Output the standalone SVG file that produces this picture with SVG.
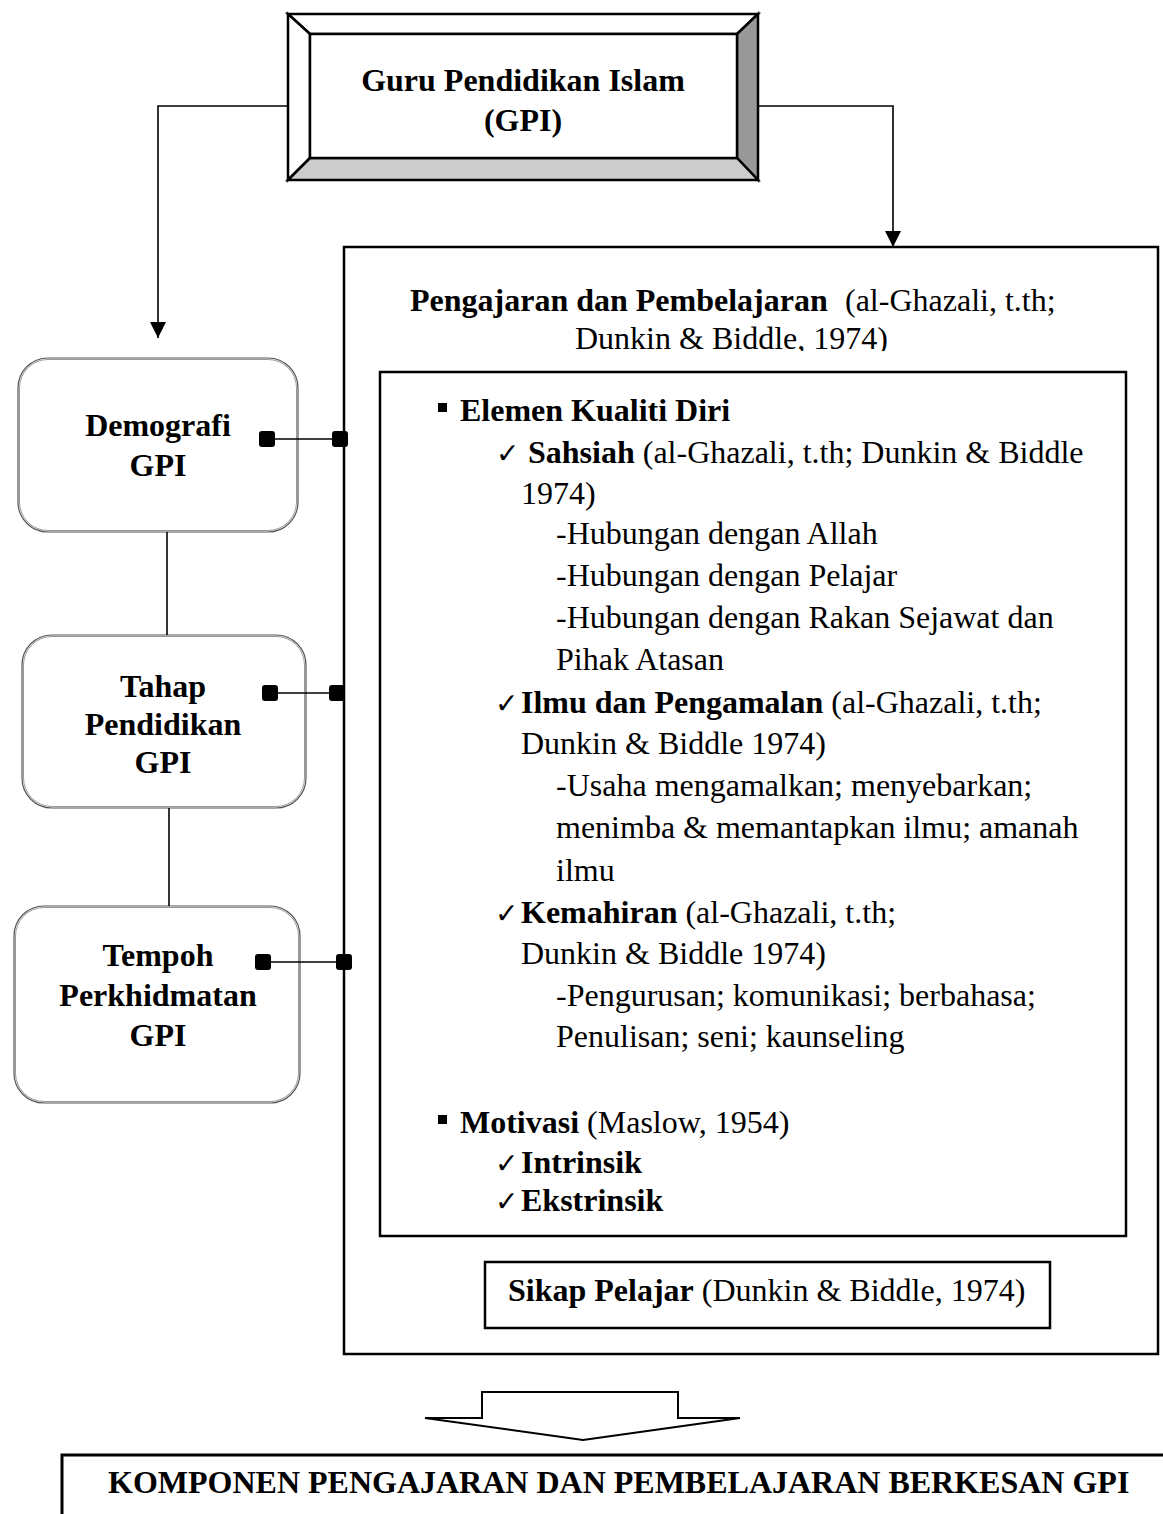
<svg xmlns="http://www.w3.org/2000/svg" width="1163" height="1514" viewBox="0 0 1163 1514">
<style>
text{font-family:"Liberation Serif","Times New Roman",serif;font-size:32px;fill:#000}
.b{font-weight:bold}
.c{text-anchor:middle}
.ck{font-family:"DejaVu Sans",sans-serif;font-size:28px}
.ln{stroke:#000;stroke-width:1.6;fill:none}
.box{fill:#fff;stroke:#000;stroke-width:2.5}
.rb{fill:#fff;stroke:#555;stroke-width:1.2}
.rbi{fill:none;stroke:#999;stroke-width:1}
.bev{stroke:#000;stroke-width:2.5;stroke-linejoin:miter}
.sq{fill:#000}
</style>
<defs>
<marker id="ah" markerUnits="userSpaceOnUse" viewBox="0 0 16 16" markerWidth="16" markerHeight="16" refX="16" refY="8" orient="auto">
<path d="M0,0 L16,8 L0,16 z" fill="#000"/>
</marker>
<clipPath id="titleclip"><rect x="344" y="250" width="814" height="101"/></clipPath>
</defs>
<rect width="1163" height="1514" fill="#fff"/>

<g id="gpi">
<polygon class="bev" points="288,14 758,14 737,34 310,34" fill="#fff"/>
<polygon class="bev" points="288,14 310,34 310,158 288,180" fill="#fff"/>
<polygon class="bev" points="758,14 758,180 737,158 737,34" fill="#999"/>
<polygon class="bev" points="288,180 310,158 737,158 758,180" fill="#ccc"/>
<rect class="bev" x="310" y="34" width="427" height="124" fill="#fff"/>
<text class="b c" x="523" y="91">Guru Pendidikan Islam</text>
<text class="b c" x="523" y="131">(GPI)</text>
</g>

<g id="demografi">
<rect class="rb" x="18" y="358" width="280" height="174" rx="30"/>
<rect class="rbi" x="19.5" y="359.5" width="277" height="171" rx="28.5"/>
<text class="b c" x="158" y="436">Demografi</text>
<text class="b c" x="158" y="476">GPI</text>
</g>

<g id="tahap">
<rect class="rb" x="22" y="635" width="284" height="173" rx="30"/>
<rect class="rbi" x="23.5" y="636.5" width="281" height="170" rx="28.5"/>
<text class="b c" x="163" y="697">Tahap</text>
<text class="b c" x="163" y="735">Pendidikan</text>
<text class="b c" x="163" y="773">GPI</text>
</g>

<g id="tempoh">
<rect class="rb" x="14" y="906" width="286" height="197" rx="30"/>
<rect class="rbi" x="15.5" y="907.5" width="283" height="194" rx="28.5"/>
<text class="b c" x="158" y="966">Tempoh</text>
<text class="b c" x="158" y="1006">Perkhidmatan</text>
<text class="b c" x="158" y="1046">GPI</text>
</g>

<g id="pengajaran">
<rect class="box" x="344" y="247" width="814" height="1107"/>
<g clip-path="url(#titleclip)">
<text x="410" y="311"><tspan class="b">Pengajaran dan Pembelajaran</tspan><tspan x="845">(al-Ghazali, t.th;</tspan></text>
<text x="575" y="349">Dunkin &amp; Biddle, 1974)</text>
</g>
</g>

<g id="elemen">
<rect class="box" x="380" y="372" width="746" height="864"/>
<rect x="438" y="403" width="9" height="9"/>
<text class="b" x="460" y="421">Elemen Kualiti Diri</text>
<text class="ck" x="496" y="463">✓</text>
<text x="528" y="463"><tspan class="b">Sahsiah</tspan> (al-Ghazali, t.th; Dunkin &amp; Biddle</text>
<text x="521" y="504">1974)</text>
<text x="556" y="544">-Hubungan dengan Allah</text>
<text x="556" y="586">-Hubungan dengan Pelajar</text>
<text x="556" y="628">-Hubungan dengan Rakan Sejawat dan</text>
<text x="556" y="670">Pihak Atasan</text>
<text class="ck" x="495" y="713">✓</text>
<text x="521" y="713"><tspan class="b">Ilmu dan Pengamalan</tspan> (al-Ghazali, t.th;</text>
<text x="521" y="754">Dunkin &amp; Biddle 1974)</text>
<text x="556" y="796">-Usaha mengamalkan; menyebarkan;</text>
<text x="556" y="838">menimba &amp; memantapkan ilmu; amanah</text>
<text x="556" y="881">ilmu</text>
<text class="ck" x="495" y="923">✓</text>
<text x="521" y="923"><tspan class="b">Kemahiran</tspan> (al-Ghazali, t.th;</text>
<text x="521" y="964">Dunkin &amp; Biddle 1974)</text>
<text x="556" y="1006">-Pengurusan; komunikasi; berbahasa;</text>
<text x="556" y="1047">Penulisan; seni; kaunseling</text>
<rect x="438" y="1115" width="9" height="9"/>
<text x="460" y="1133"><tspan class="b">Motivasi</tspan> (Maslow, 1954)</text>
<text class="ck" x="495" y="1173">✓</text>
<text class="b" x="521" y="1173">Intrinsik</text>
<text class="ck" x="495" y="1211">✓</text>
<text class="b" x="521" y="1211">Ekstrinsik</text>
</g>

<g id="sikap">
<rect class="box" x="485" y="1262" width="565" height="66"/>
<text x="508" y="1301"><tspan class="b">Sikap Pelajar</tspan> (Dunkin &amp; Biddle, 1974)</text>
</g>

<g id="komponen">
<path d="M62,1514 V1455 H1163" fill="none" stroke="#000" stroke-width="3"/>
<text class="b" x="108" y="1493">KOMPONEN PENGAJARAN DAN PEMBELAJARAN BERKESAN GPI</text>
</g>

<g id="connectors">
<path class="ln" d="M288,106 H158 V338" marker-end="url(#ah)"/>
<path class="ln" d="M758,106 H893 V247" marker-end="url(#ah)"/>
<line class="ln" x1="167" y1="532" x2="167" y2="635"/>
<line class="ln" x1="169" y1="808" x2="169" y2="906"/>
<line class="ln" x1="267" y1="439" x2="340" y2="439"/>
<rect class="sq" x="259" y="431" width="16" height="16" rx="3"/>
<rect class="sq" x="332" y="431" width="16" height="16" rx="3"/>
<line class="ln" x1="270" y1="693" x2="337" y2="693"/>
<rect class="sq" x="262" y="685" width="16" height="16" rx="3"/>
<rect class="sq" x="329" y="685" width="16" height="16" rx="3"/>
<line class="ln" x1="263" y1="962" x2="344" y2="962"/>
<rect class="sq" x="255" y="954" width="16" height="16" rx="3"/>
<rect class="sq" x="336" y="954" width="16" height="16" rx="3"/>
<polygon points="482,1392 678,1392 678,1418 740,1418 583,1440 425,1418 482,1418" fill="#fff" stroke="#000" stroke-width="2"/>
</g>
</svg>
